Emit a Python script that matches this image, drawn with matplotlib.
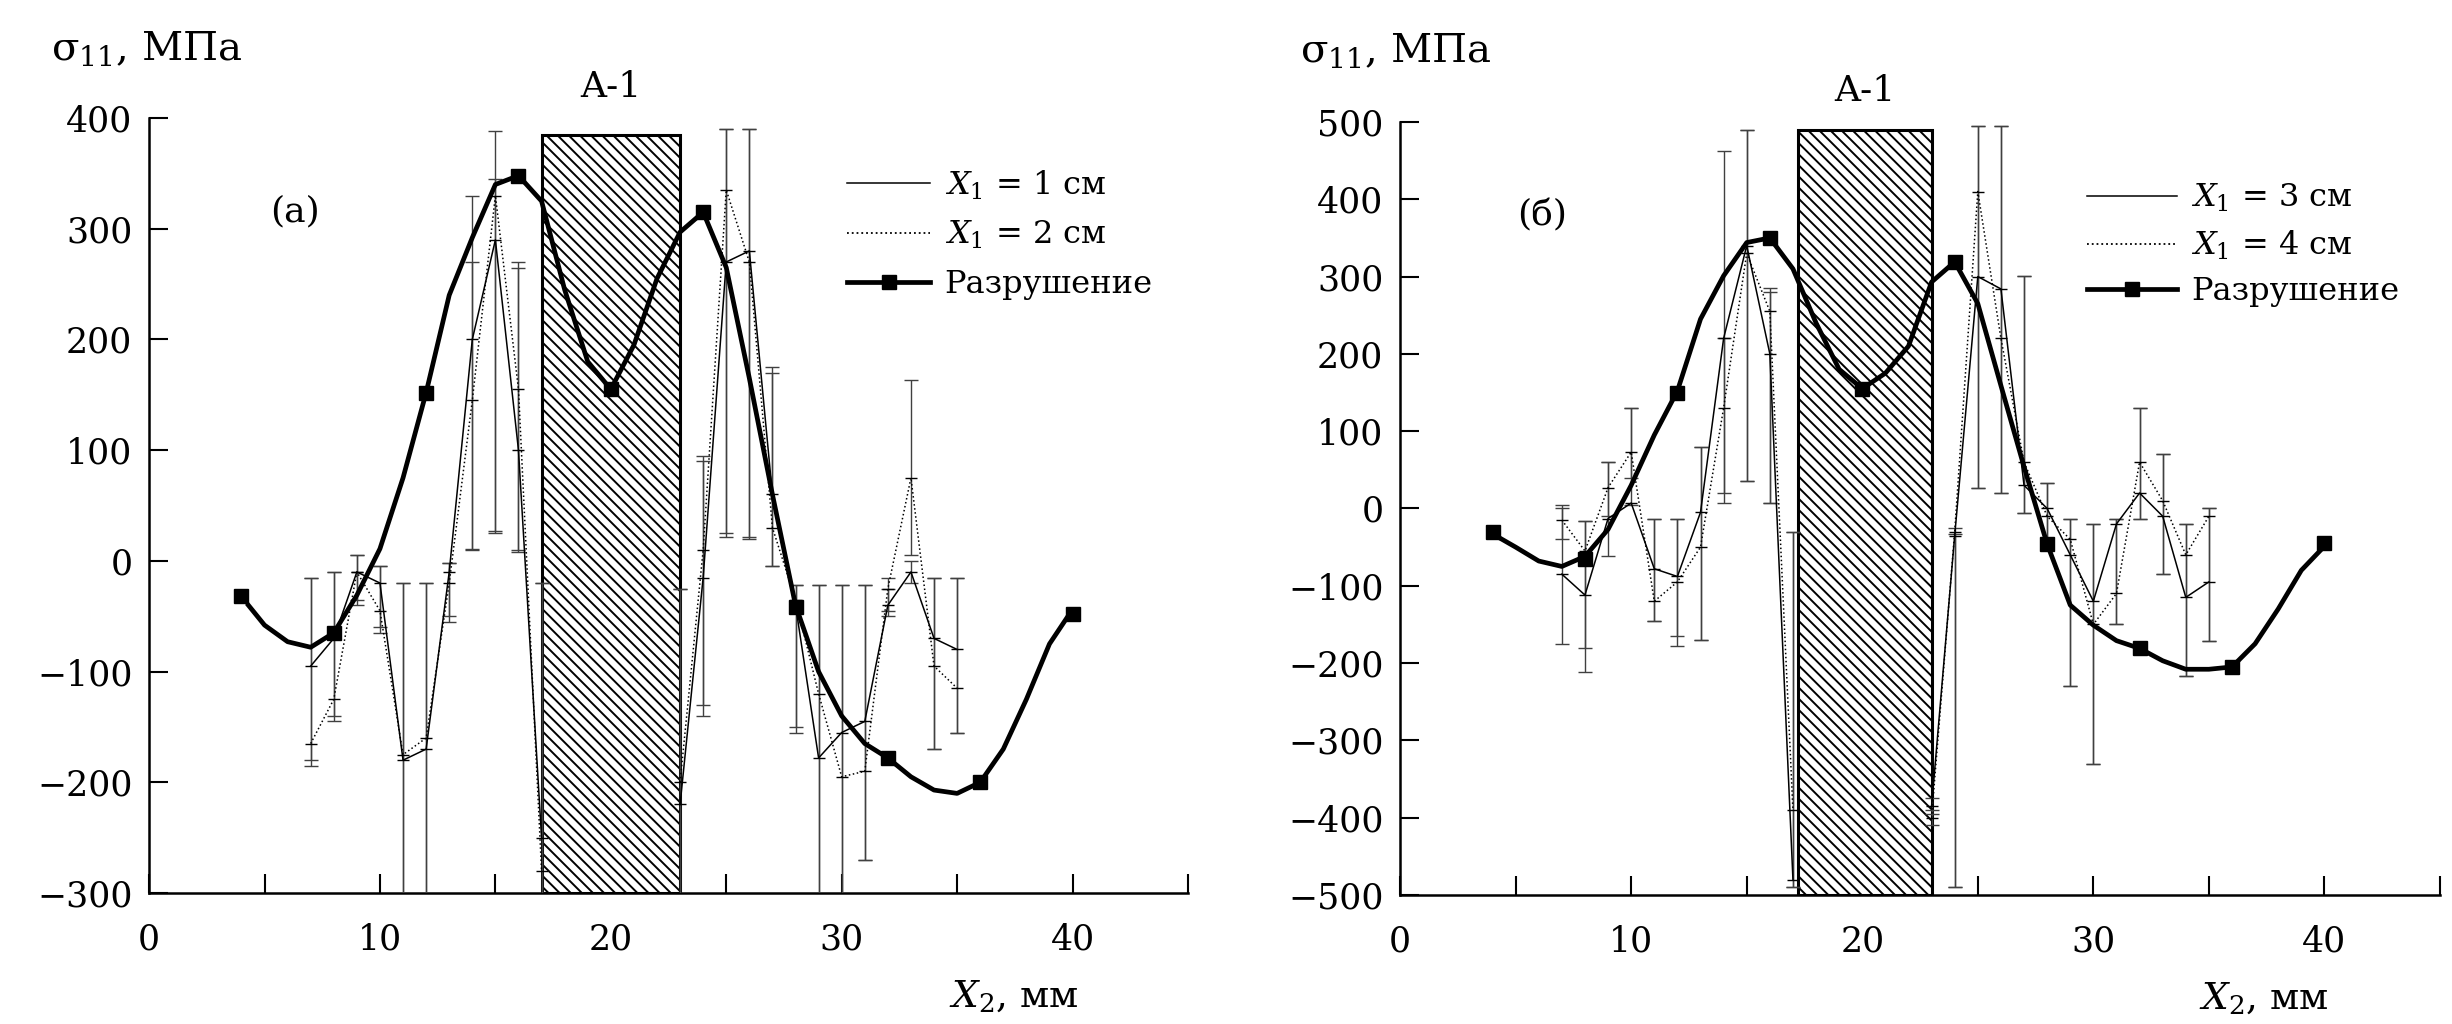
import matplotlib
matplotlib.use("Agg")
import numpy as np
import matplotlib.pyplot as plt
from matplotlib.lines import Line2D
from matplotlib.patches import Rectangle
from matplotlib.ticker import MultipleLocator

plt.rcParams['font.family'] = ['DejaVu Serif']
plt.rcParams['mathtext.fontset'] = 'dejavuserif'
plt.rcParams['hatch.linewidth'] = 1.4

# measurement positions X2, mm (both panels)
x_meas = [7, 8, 9, 10, 11, 12, 13, 14, 15, 16, 17,
          23, 24, 25, 26, 27, 28, 29, 30, 31, 32, 33, 34, 35]

# panel (a): X1 = 1 cm
a1_y  = [-95, -70, -10, -20, -180, -170, -10, 200, 290, 100, -250,
         -220, -15, 270, 280, 60, -40, -178, -155, -145, -40, -10, -70, -80]
a1_lo = [-180, -140, -40, -60, -310, -310, -50, 10, 25, 8, -310,
         -310, -140, 22, 20, -5, -155, -310, -310, -270, -50, -20, -170, -155]
a1_hi = [-15, -10, 5, -5, -20, -20, -2, 330, 388, 270, -20,
         -25, 95, 390, 390, 175, -22, -22, -22, -22, -25, 0, -15, -15]
# panel (a): X1 = 2 cm
a2_y  = [-165, -125, -10, -45, -175, -160, -20, 145, 330, 155, -280,
         -200, 10, 335, 270, 30, -35, -120, -195, -190, -25, 75, -95, -115]
a2_lo = [-185, -145, -35, -65, -310, -310, -55, 11, 27, 10, -310,
         -310, -130, 25, 22, -5, -150, -310, -310, -270, -45, 5, -170, -155]
a2_hi = [-15, -10, 5, -5, -20, -20, -2, 270, 345, 265, -20,
         -25, 90, 390, 390, 170, -22, -22, -22, -22, -15, 163, -15, -15]

# panel (b): X1 = 3 cm
b1_y  = [-85, -112, -13, 7, -78, -88, -5, 220, 340, 200, -480,
         -385, -35, 300, 284, 30, 0, -60, -120, -20, 20, -10, -115, -95]
b1_lo = [-175, -211, -62, 5, -145, -178, -170, 7, 35, 7, -490,
         -395, -490, 27, 20, -6, -46, -230, -330, -150, -13, -85, -217, -171]
b1_hi = [0, -16, 60, 130, -13, -13, 80, 462, 489, 280, -30,
         -375, -33, 495, 495, 301, 33, -13, -20, -13, 130, 70, -20, 0]
# panel (b): X1 = 4 cm
b2_y  = [-15, -55, 27, 73, -120, -95, -50, 130, 330, 255, -390,
         -400, -30, 410, 220, 60, -10, -40, -150, -110, 60, 10, -60, -10]
b2_lo = [-40, -180, -10, 40, -145, -165, -170, 20, 35, 7, -490,
         -410, -490, 27, 20, -6, -46, -230, -330, -150, -13, -85, -217, -171]
b2_hi = [5, -16, 60, 130, -13, -13, 80, 220, 489, 285, -30,
         -390, -25, 495, 495, 301, 33, -13, -20, -13, 130, 70, -20, 0]

# fracture curve ("Разрушение")
curve_x = [4.3, 5, 6, 7, 8, 9, 10, 11, 12, 13, 14, 15, 16, 17, 18, 19, 20, 21, 22, 23,
           24, 25, 26, 27, 28, 29, 30, 31, 32, 33, 34, 35, 36, 37, 38, 39, 39.8]
a_curve_y = [-40, -58, -73, -78, -65, -31, 11, 75, 152, 240, 292, 340, 348, 325, 245, 180, 155, 195, 255, 297,
             315, 265, 165, 60, -40, -100, -140, -165, -178, -195, -207, -210, -200, -170, -125, -75, -50]
b_curve_y = [-38, -50, -68, -75, -62, -27, 30, 95, 152, 245, 301, 344, 350, 310, 240, 180, 155, 175, 210, 293,
             319, 265, 159, 54, -46, -125, -151, -171, -181, -197, -208, -208, -205, -175, -130, -80, -55]

break_x = [4, 8, 12, 16, 20, 24, 28, 32, 36, 40]
a_break_y = [-32, -65, 152, 348, 155, 315, -42, -178, -200, -48]
b_break_y = [-30, -65, 150, 350, 155, 319, -46, -181, -205, -45]

# specimen zone A-1: x0, x1, top
a_zone = [17.0, 23.0, 385]
b_zone = [17.2, 23.0, 490]


def draw_series(ax, y, lo, hi, ls):
    x = np.array(x_meas)
    y, lo, hi = np.array(y), np.array(lo), np.array(hi)
    # left and right of the specimen are drawn as separate pieces
    for m in [x < 20, x > 20]:
        ax.errorbar(x[m], y[m], yerr=[y[m] - lo[m], hi[m] - y[m]],
                    color='k', ls=ls, lw=1.1, marker='_', ms=8, mew=1.0,
                    ecolor='0.25', elinewidth=1.0, capsize=5, capthick=1.0, zorder=3)


def draw_panel(ax, ylim, s1, s2, cy, by, zone, tag, tag_xy, labels, leg_anchor, leg_hl, leg_sp):
    x0, x1, top = zone
    ax.add_patch(Rectangle((x0, ylim[0]), x1 - x0, top - ylim[0], facecolor='white',
                           edgecolor='k', lw=2.2, hatch='\\\\\\', zorder=2))
    draw_series(ax, *s1, '-')
    draw_series(ax, *s2, ':')
    ax.plot(curve_x, cy, color='k', lw=3.4, zorder=4)
    ax.plot(break_x, by, 's', color='k', ms=10, zorder=5)

    ax.set_xlim(0, 45)
    ax.set_ylim(*ylim)
    ax.xaxis.set_major_locator(MultipleLocator(10))
    ax.xaxis.set_minor_locator(MultipleLocator(5))
    ax.yaxis.set_major_locator(MultipleLocator(100))
    ax.tick_params(which='both', direction='in', length=14, width=1.5, labelsize=25)
    ax.tick_params(axis='x', which='both', pad=21)
    ax.tick_params(axis='y', pad=12)
    for s in ['top', 'right']:
        ax.spines[s].set_visible(False)
    for s in ['left', 'bottom']:
        ax.spines[s].set_linewidth(1.8)

    ax.text((x0 + x1) / 2, 1.04, 'A-1', transform=ax.get_xaxis_transform(),
            ha='center', va='center', fontsize=26)
    ax.text(tag_xy[0], tag_xy[1], tag, ha='center', va='center', fontsize=26)

    handles = [Line2D([], [], color='k', lw=1.1, ls='-'),
               Line2D([], [], color='k', lw=1.3, ls=':'),
               Line2D([], [], color='k', lw=3.4, marker='s', ms=10)]
    ax.legend(handles, labels, loc='upper left', bbox_to_anchor=leg_anchor, frameon=False,
              fontsize=23, handlelength=leg_hl, handletextpad=0.45, labelspacing=leg_sp,
              borderpad=0, borderaxespad=0)


fig = plt.figure(figsize=(24.52, 10.24), dpi=100)
ax_a = fig.add_axes([0.0608, 0.1279, 0.4237, 0.7568])
ax_b = fig.add_axes([0.5710, 0.1260, 0.4241, 0.7549])

draw_panel(ax_a, (-300, 400), (a1_y, a1_lo, a1_hi), (a2_y, a2_lo, a2_hi),
           a_curve_y, a_break_y, a_zone, '(а)', (6.3, 316),
           ['$X_1$ = 1 см', '$X_1$ = 2 см', 'Разрушение'], (0.672, 0.935), 2.6, 0.55)
draw_panel(ax_b, (-500, 500), (b1_y, b1_lo, b1_hi), (b2_y, b2_lo, b2_hi),
           b_curve_y, b_break_y, b_zone, '(б)', (6.15, 379),
           ['$X_1$ = 3 см', '$X_1$ = 4 см', 'Разрушение'], (0.661, 0.922), 2.8, 0.45)

#   axis captions sit outside the frames, like in the scan
fig.text(0.0208, 0.953, 'σ$_{11}$, МПа', ha='left', va='center', fontsize=29)
fig.text(0.5302, 0.951, 'σ$_{11}$, МПа', ha='left', va='center', fontsize=29)
fig.text(0.387, 0.026, '$X_2$, мм', ha='left', va='center', fontsize=27)
fig.text(0.897, 0.024, '$X_2$, мм', ha='left', va='center', fontsize=27)

fig.savefig('out.png', dpi=100)
